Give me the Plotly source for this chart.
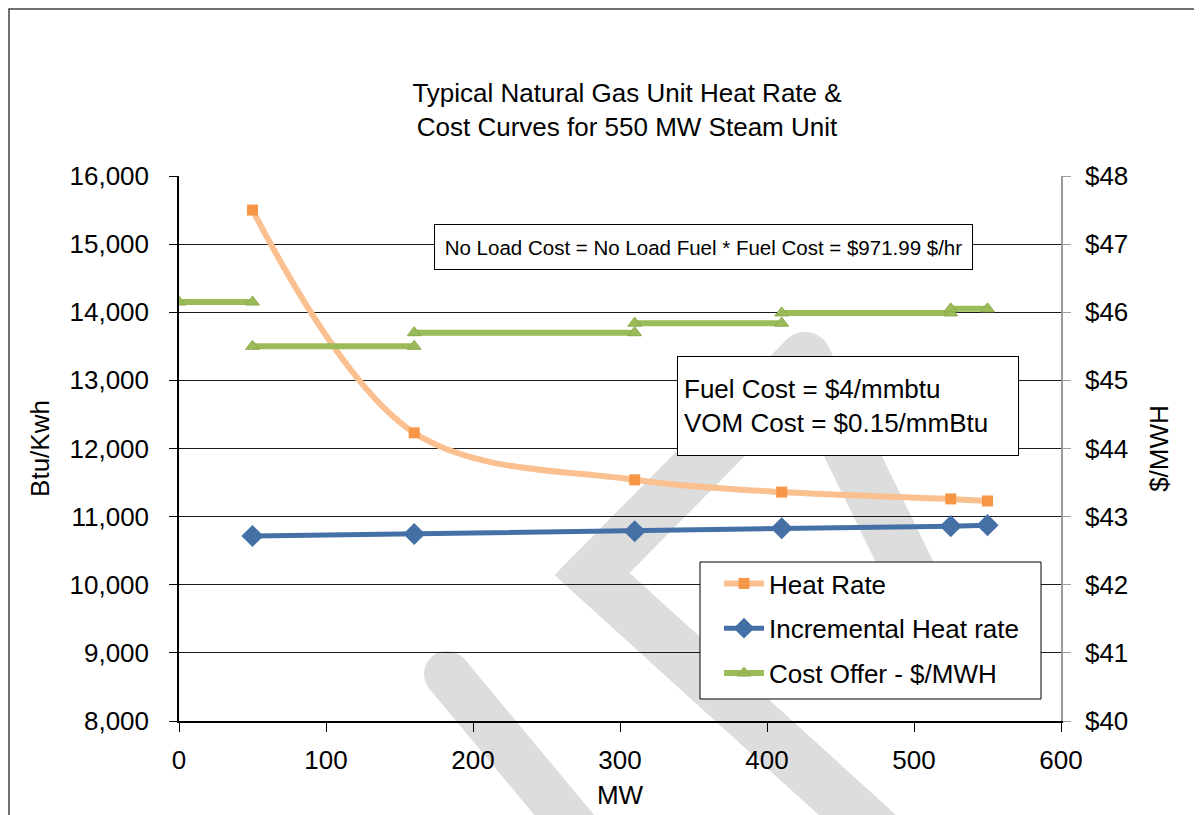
import plotly.graph_objects as go

# ---------------- data ----------------
mw = [50, 160, 310, 410, 525, 550]
heat_rate = [15500, 12230, 11540, 11360, 11260, 11230]
incremental_hr = [10715, 10745, 10785, 10830, 10860, 10875]

offer_start = [0, 50, 160, 310, 410, 525]
offer_end = [50, 160, 310, 410, 525, 550]
offer_price = [46.15, 45.50, 45.70, 45.84, 45.99, 46.05]

x_ticks = [0, 100, 200, 300, 400, 500, 600]
y_ticks = [8000, 9000, 10000, 11000, 12000, 13000, 14000, 15000, 16000]
y2_ticks = [40, 41, 42, 43, 44, 45, 46, 47, 48]
y2_ticktext = ["$" + str(v) for v in y2_ticks]

title_text = "Typical Natural Gas Unit Heat Rate &<br>Cost Curves for 550 MW Steam Unit"
no_load_text = "No Load Cost = No Load Fuel * Fuel Cost = $971.99 $/hr"
fuel_text = "Fuel Cost = $4/mmbtu<br>VOM Cost = $0.15/mmBtu"

# step segments for the cost offer (separated by gaps)
cost_x, cost_y = [], []
for s, e, p in zip(offer_start, offer_end, offer_price):
    cost_x += [s, e, None]
    cost_y += [p, p, None]

FONT = "Liberation Sans, Arial, sans-serif"
W, H = 1202, 815
ML, MR, MT, MB = 171, 149, 168, 102   # page body adds 8px offset
PW, PH = W - ML - MR, H - MT - MB
X0_IMG, Y0_IMG = ML + 8, MT + 8 + PH   # image pixel of plot-area bottom-left


def px(x):
    return (x - X0_IMG) / PW


def py(y):
    return (Y0_IMG - y) / PH


def lx(x):
    return (x - ML) / PW


def ly(y):
    return (MT + PH - y) / PH


fig = go.Figure()

fig.add_trace(go.Scatter(
    x=mw, y=heat_rate, name="Heat Rate", mode="lines+markers",
    line=dict(color="#FAC090", width=6, shape="spline", smoothing=1.0),
    marker=dict(symbol="square", size=11, color="#F79646"),
    legendgroup="a", yaxis="y"))

fig.add_trace(go.Scatter(
    x=mw, y=incremental_hr, name="Incremental Heat rate", mode="lines+markers",
    line=dict(color="#4470A6", width=5),
    marker=dict(symbol="diamond", size=17, color="#4470A6"),
    legendgroup="b", yaxis="y"))

fig.add_trace(go.Scatter(
    x=cost_x, y=cost_y, name="Cost Offer - $/MWH", mode="lines+markers",
    line=dict(color="#9BBB59", width=6),
    marker=dict(symbol="triangle-up", size=12, color="#9BBB59",
                line=dict(color="#8BAA4C", width=1)),
    connectgaps=False, legendgroup="c", yaxis="y2"))

# watermark (decoration) drawn in paper coordinates from pixel positions
WM = "#DDDDDD"
shapes = []


def stroke(points, width):
    path = "M " + " L ".join(f"{px(x):.5f},{py(y):.5f}" for x, y in points)
    shapes.append(dict(type="path", path=path, xref="paper", yref="paper",
                       line=dict(color=WM, width=width), layer="below"))
    r = width / 2.0
    for x, y in points:
        shapes.append(dict(type="circle", xref="paper", yref="paper",
                           x0=px(x - r), x1=px(x + r), y0=py(y + r), y1=py(y - r),
                           fillcolor=WM, line=dict(width=0), layer="below"))


stroke([(447, 674), (585, 840)], 46)
stroke([(805, 358), (592, 574), (885, 840)], 52)
stroke([(805, 358), (950, 655)], 52)

# outer chart frame (left/top/right edges)
frame_path = (f"M {lx(1):.5f},{ly(H + 20):.5f} L {lx(1):.5f},{ly(1):.5f} "
              f"L {lx(1188):.5f},{ly(1):.5f} L {lx(1188):.5f},{ly(H + 20):.5f}")
shapes.append(dict(type="path", path=frame_path, xref="paper", yref="paper",
                   line=dict(color="#404040", width=1.5), layer="above"))
# legend box
shapes.append(dict(type="rect", xref="paper", yref="paper",
                   x0=px(700), x1=px(1041), y0=py(699), y1=py(562),
                   line=dict(color="black", width=1), fillcolor="white",
                   layer="above"))

fig.update_layout(
    width=W, height=H, autosize=False,
    margin=dict(l=ML, r=MR, t=MT, b=MB, pad=0),
    paper_bgcolor="white", plot_bgcolor="rgba(0,0,0,0)",
    font=dict(family=FONT, size=26, color="black"),
    title=dict(text=title_text, x=px(627), xref="paper", xanchor="center",
               y=1 - 94 / H, yref="container", yanchor="middle",
               font=dict(family=FONT, size=26, color="black")),
    xaxis=dict(range=[0, 600], tickvals=x_ticks, showgrid=False,
               showline=True, linecolor="black", linewidth=1.5,
               ticks="outside", ticklen=9, tickcolor="black", tickwidth=1,
               ticklabelstandoff=6, zeroline=False,
               title=dict(text="MW", standoff=12, font=dict(size=26))),
    yaxis=dict(range=[8000, 16000], tickvals=y_ticks, tickformat=",d",
               showgrid=True, gridcolor="#1a1a1a", gridwidth=1.2,
               showline=True, linecolor="black", linewidth=1.5,
               ticks="outside", ticklen=8, tickcolor="black", tickwidth=1,
               ticklabelstandoff=15, zeroline=False,
               title=dict(text="Btu/Kwh", standoff=12, font=dict(size=26))),
    yaxis2=dict(range=[40, 48], tickvals=y2_ticks, ticktext=y2_ticktext,
                overlaying="y", side="right", showgrid=False,
                showline=True, linecolor="#9A9A9A", linewidth=1.5,
                ticks="outside", ticklen=8, tickcolor="#9A9A9A", tickwidth=1,
                ticklabelstandoff=9, zeroline=False,
                title=dict(text="$/MWH", standoff=22, font=dict(size=26))),
    legend=dict(x=px(719), y=py(560), xanchor="left", yanchor="top",
                bgcolor="rgba(0,0,0,0)", borderwidth=0,
                font=dict(family=FONT, size=26), tracegroupgap=8,
                itemwidth=40),
    showlegend=True,
    shapes=shapes,
    annotations=[
        dict(text=no_load_text, xref="paper", yref="paper",
             x=px(703.5), y=py(247), xanchor="center", yanchor="middle",
             showarrow=False, font=dict(family=FONT, size=20.5),
             bgcolor="white", bordercolor="black", borderwidth=1,
             width=535, height=42, align="center"),
        dict(text=fuel_text, xref="paper", yref="paper",
             x=px(848), y=py(405.5), xanchor="center", yanchor="middle",
             showarrow=False, font=dict(family=FONT, size=26),
             bgcolor="white", bordercolor="black", borderwidth=1,
             width=328, height=86, align="left", borderpad=6),
    ],
)

fig.write_html("out.html")
